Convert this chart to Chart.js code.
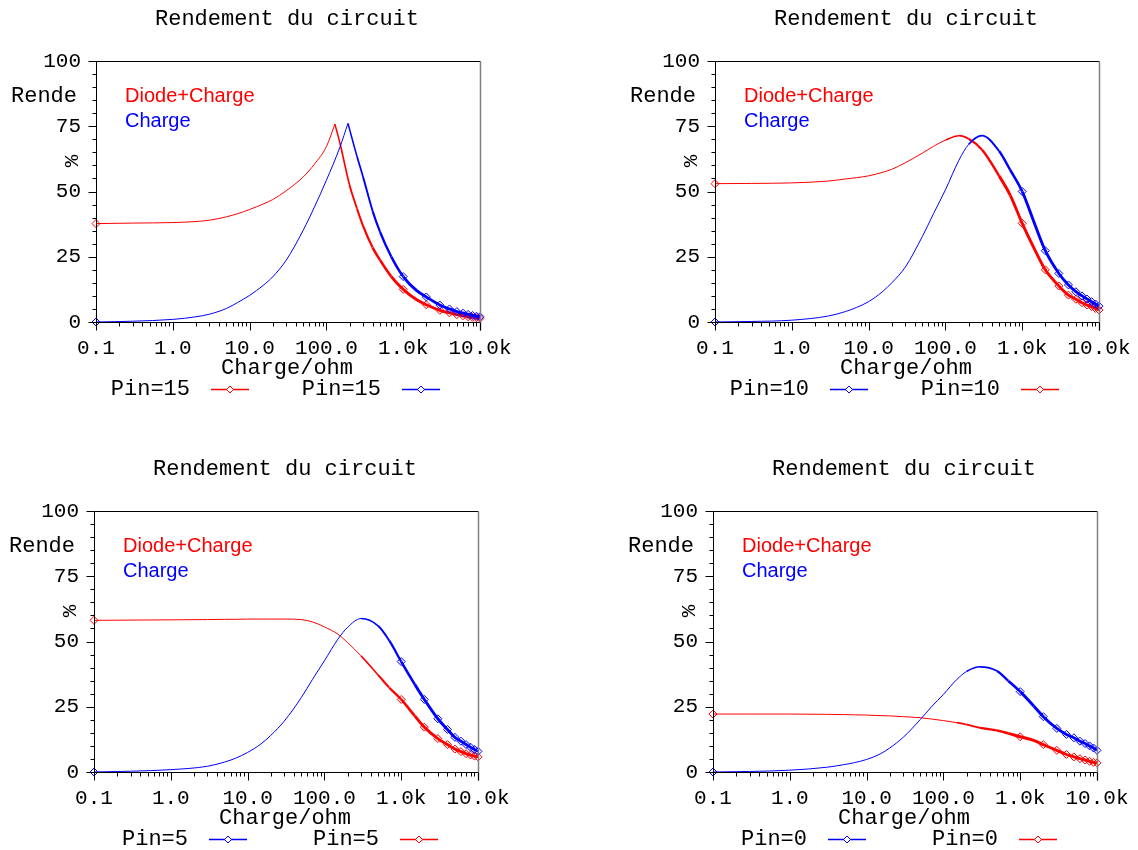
<!DOCTYPE html>
<html>
<head>
<meta charset="utf-8">
<script src="https://cdn.jsdelivr.net/npm/chart.js@4.4.1/dist/chart.umd.min.js"></script>
<style>
  body { margin: 0; background: #fff; width: 1138px; height: 850px; position: relative; overflow: hidden; }
  canvas { position: absolute; }
</style>
</head>
<body>
<canvas id="c15" width="520" height="400" style="left:0px;top:0px"></canvas>
<canvas id="c10" width="520" height="400" style="left:619px;top:0px"></canvas>
<canvas id="c5" width="520" height="400" style="left:-2px;top:450px"></canvas>
<canvas id="c0" width="520" height="400" style="left:617px;top:450px"></canvas>
<script>
// load values (ohm) and efficiencies (%)
const xStd = [0.1, 0.3, 1, 3, 5, 7, 10, 15, 20, 30, 50, 70, 100, 150, 200, 300, 500, 700, 1000, 1500, 2000, 3000, 4000, 5000, 6000, 7000, 8000, 9000, 10000];
const xPin15Red = [0.1, 0.3, 1, 2, 3, 5, 7, 10, 15, 20, 30, 50, 70, 100, 129, 150, 200, 250, 300, 400, 500, 700, 1000, 1500, 2000, 3000, 4000, 5000, 6000, 7000, 8000, 9000, 10000];
const xPin15Blue = [0.1, 0.3, 1, 2, 3, 5, 7, 10, 15, 20, 30, 50, 70, 100, 150, 191, 250, 300, 400, 500, 700, 1000, 1500, 2000, 3000, 4000, 5000, 6000, 7000, 8000, 9000, 10000];
const pin15RedPeak = 14;   // index of the sharp maximum
const pin15BluePeak = 15;

const pin15Red = [37.7, 37.9, 38.1, 38.5, 39, 40.3, 41.5, 43.1, 45.2, 46.9, 50.3, 55.6, 60.5, 67.2, 75.8, 68.6, 52.5, 43.5, 36.8, 28.5, 23.7, 17.4, 12.5, 8.5, 6.6, 4.5, 3.5, 2.8, 2.4, 2.0, 1.8, 1.6, 1.4];
const pin15Blue = [0, 0.3, 1.0, 2.0, 3.0, 5.2, 7.5, 10.2, 14, 17.3, 23.7, 35.2, 44.1, 54.3, 67, 76.1, 63.5, 55.6, 42.5, 34.5, 25, 17.4, 12, 9.6, 6.5, 5.0, 4.0, 3.4, 2.9, 2.5, 2.2, 2.0];

const pin10Red = [53, 53.1, 53.3, 54, 54.8, 55.3, 56, 57.3, 58.5, 61, 64.7, 67.3, 69.7, 71.4, 70.2, 66, 56, 48.5, 37.8, 27, 20, 13.8, 10.3, 8.7, 7.4, 6.5, 5.9, 5.2, 4.6];
const pin10Blue = [0, 0.2, 0.7, 2.3, 4, 5.6, 7.8, 11.5, 15, 21, 32.7, 41.5, 50.6, 62, 68, 71.4, 65.5, 58.2, 50, 36.5, 27.3, 18.6, 14.2, 11.6, 10, 8.8, 7.8, 6.9, 6.1];

const pin5Red = [58.1, 58.2, 58.3, 58.4, 58.5, 58.5, 58.6, 58.6, 58.6, 58.6, 58.4, 57.5, 55.6, 52.8, 49.6, 44.5, 37.2, 32.3, 27.8, 21.5, 17.2, 12.8, 10.5, 8.8, 7.8, 7.0, 6.5, 6.1, 5.8];
const pin5Blue = [0, 0.3, 0.9, 2.2, 3.8, 5.3, 7.5, 10.8, 14, 19.5, 28.5, 35.5, 42.6, 50.9, 55.4, 58.8, 56, 50.3, 42.3, 33.6, 27.8, 20.4, 16.3, 13.3, 11.8, 10.5, 9.5, 8.6, 7.9];

const pin0Red = [22.2, 22.2, 22.2, 22.1, 22.0, 21.9, 21.8, 21.6, 21.5, 21.2, 20.8, 20.3, 19.7, 18.9, 18.2, 16.9, 15.9, 14.8, 13.5, 12.1, 10.5, 8.3, 6.7, 5.8, 5.1, 4.6, 4.1, 3.7, 3.5];
const pin0Blue = [0, 0.2, 0.7, 1.8, 2.8, 3.6, 4.8, 6.9, 9.2, 13.3, 20.1, 25, 29.7, 35.5, 38.5, 40.3, 38.7, 34.9, 30.8, 25.3, 21.2, 16.7, 14.4, 13.1, 11.8, 10.9, 10.0, 9.2, 8.3];

const markerX = [0.1, 1000, 2000, 3000, 4000, 5000, 6000, 7000, 8000, 9000, 10000];
const xTickValues = [0.1, 1, 10, 100, 1000, 10000];
const xTickLabels = ['0.1', '1.0', '10.0', '100.0', '1.0k', '10.0k'];
const yTickValues = [0, 25, 50, 75, 100];

const titleText = 'Rendement du circuit';
const xTitle = 'Charge/ohm';
const yTitle = 'Rende';
const seriesNames = ['Diode+Charge', 'Charge'];

const RED = '#ff0000';
const BLUE = '#0000ff';
const MONO = "'Liberation Mono', 'Courier New', monospace";
const SANS = "'Liberation Sans', Arial, sans-serif";

function pts(xs, ys) {
    return xs.map((x, i) => ({ x: x, y: ys[i] }));
}

function series(data, color, thick) {
    return {
        data: data,
        clip: false,
        borderColor: color,
        backgroundColor: color,
        borderWidth: 1,
        cubicInterpolationMode: 'monotone',
        pointStyle: 'rectRot',
        pointRadius: ctx => markerX.includes(ctx.raw.x) ? 4 : 0,
        pointBorderColor: color,
        pointBackgroundColor: 'rgba(0,0,0,0)',
        pointBorderWidth: 1,
        segment: {
            // line gets heavier towards high loads, like the dense sweep in the original
            borderWidth: ctx => {
                const x0 = ctx.p0.parsed.x;
                if (x0 < thick) return 1;
                const f = Math.min(1, Math.log10(x0 / thick) / 0.7);
                return 1.5 + 1.4 * f;
            }
        }
    };
}

// a curve with a sharp top is drawn as two smooth halves meeting at the peak
function splitSeries(xs, ys, peak, color) {
    const all = pts(xs, ys);
    return [
        series(all.slice(0, peak + 1), color, Infinity),
        series(all.slice(peak), color, xs[peak])
    ];
}

// frame, minor ticks, titles and legends
const decor = {
    id: 'decor',
    afterDraw(chart, args, opts) {
        const { ctx, chartArea: a, scales } = chart;
        const xs = scales.x, ys = scales.y;
        const L = Math.round(a.left) + 0.5;
        const B = Math.round(a.bottom) + 0.5;
        const T = Math.round(a.top) + 0.5;
        const R = Math.round(a.right) + 0.5;
        ctx.save();
        ctx.lineWidth = 1;
        ctx.strokeStyle = '#000';
        ctx.beginPath();
        ctx.moveTo(L, T); ctx.lineTo(R, T);
        ctx.moveTo(L, T); ctx.lineTo(L, B);
        ctx.moveTo(L, B); ctx.lineTo(R, B);
        ctx.stroke();
        ctx.strokeStyle = '#808080';
        ctx.lineWidth = 1.5;
        ctx.beginPath();
        ctx.moveTo(R, T); ctx.lineTo(R, B + 8);
        ctx.stroke();

        ctx.strokeStyle = '#000';
        ctx.lineWidth = 1;
        ctx.beginPath();
        for (let v = 0; v <= 100; v += 5) {
            const py = Math.round(ys.getPixelForValue(v)) + 0.5;
            const len = v % 25 === 0 ? 8 : 4;
            ctx.moveTo(L - len, py); ctx.lineTo(L, py);
        }
        xTickValues.forEach((d, i) => {
            const last = i === xTickValues.length - 1;
            for (let k = 1; k <= (last ? 1 : 9); k++) {
                const px = Math.round(xs.getPixelForValue(d * k)) + 0.5;
                const len = k === 1 ? 8 : 4;
                ctx.moveTo(px, B); ctx.lineTo(px, B + len);
            }
        });
        ctx.stroke();

        const cx = (a.left + a.right) / 2 - 1;
        ctx.fillStyle = '#000';
        ctx.textBaseline = 'middle';
        ctx.textAlign = 'center';
        ctx.font = '22px ' + MONO;
        ctx.fillText(titleText, cx, 19);
        ctx.fillText(xTitle, cx, 368);

        ctx.textAlign = 'left';
        ctx.fillText(yTitle, a.left - 85, 96);
        ctx.save();
        ctx.translate(a.left - 24, 161);
        ctx.rotate(-Math.PI / 2);
        ctx.textAlign = 'center';
        ctx.font = '21px ' + MONO;
        ctx.fillText('%', 0, 0);
        ctx.restore();

        ctx.font = '20px ' + SANS;
        ctx.fillStyle = RED;
        ctx.fillText(seriesNames[0], a.left + 29, 96);
        ctx.fillStyle = BLUE;
        ctx.fillText(seriesNames[1], a.left + 29, 121);

        // bottom legend
        ctx.font = '22px ' + MONO;
        opts.bottom.forEach((item, i) => {
            const off = a.left + 94 + i * 191;
            ctx.fillStyle = '#000';
            ctx.textAlign = 'right';
            ctx.fillText(item.label, off, 389);
            ctx.strokeStyle = item.color;
            ctx.lineWidth = 1.3;
            ctx.beginPath();
            ctx.moveTo(off + 21, 389.5); ctx.lineTo(off + 59, 389.5);
            ctx.stroke();
            const dx = off + 40, dy = 389.5;
            ctx.beginPath();
            ctx.moveTo(dx, dy - 3.5); ctx.lineTo(dx + 3.5, dy); ctx.lineTo(dx, dy + 3.5); ctx.lineTo(dx - 3.5, dy); ctx.closePath();
            ctx.fillStyle = '#fff';
            ctx.fill();
            ctx.lineWidth = 1;
            ctx.stroke();
        });
        ctx.restore();
    }
};

function makeChart(id, datasets, bottom) {
    return new Chart(document.getElementById(id), {
        type: 'line',
        data: { datasets: datasets },
        options: {
            responsive: false,
            animation: false,
            devicePixelRatio: 1,
            layout: { padding: { left: 0, top: 61, right: 40, bottom: 0 } },
            plugins: {
                legend: { display: false },
                tooltip: { enabled: false },
                decor: { bottom: bottom }
            },
            scales: {
                x: {
                    type: 'logarithmic',
                    min: 0.1,
                    max: 10000,
                    grid: { display: false, drawTicks: false },
                    border: { display: false },
                    afterBuildTicks: s => { s.ticks = xTickValues.map(v => ({ value: v })); },
                    afterFit: s => { s.height = 78; s.paddingLeft = 0; s.paddingRight = 0; },
                    ticks: {
                        autoSkip: false,
                        maxRotation: 0,
                        padding: 14,
                        color: '#000',
                        font: { family: MONO, size: 21 },
                        callback: (v) => xTickLabels[xTickValues.indexOf(v)]
                    }
                },
                y: {
                    min: 0,
                    max: 100,
                    grid: { display: false, drawTicks: false },
                    border: { display: false },
                    afterBuildTicks: s => { s.ticks = yTickValues.map(v => ({ value: v })); },
                    afterFit: s => { s.width = 96; },
                    ticks: {
                        padding: 15,
                        color: '#000',
                        font: { family: MONO, size: 21 }
                    }
                }
            }
        },
        plugins: [decor]
    });
}

makeChart('c15', [
    ...splitSeries(xPin15Blue, pin15Blue, pin15BluePeak, BLUE),
    ...splitSeries(xPin15Red, pin15Red, pin15RedPeak, RED)
], [{ label: 'Pin=15', color: RED }, { label: 'Pin=15', color: BLUE }]);

makeChart('c10', [
    series(pts(xStd, pin10Blue), BLUE, 190),
    series(pts(xStd, pin10Red), RED, 100)
], [{ label: 'Pin=10', color: BLUE }, { label: 'Pin=10', color: RED }]);

makeChart('c5', [
    series(pts(xStd, pin5Blue), BLUE, 290),
    series(pts(xStd, pin5Red), RED, 290)
], [{ label: 'Pin=5', color: BLUE }, { label: 'Pin=5', color: RED }]);

makeChart('c0', [
    series(pts(xStd, pin0Blue), BLUE, 200),
    series(pts(xStd, pin0Red), RED, 130)
], [{ label: 'Pin=0', color: BLUE }, { label: 'Pin=0', color: RED }]);
</script>
</body>
</html>
